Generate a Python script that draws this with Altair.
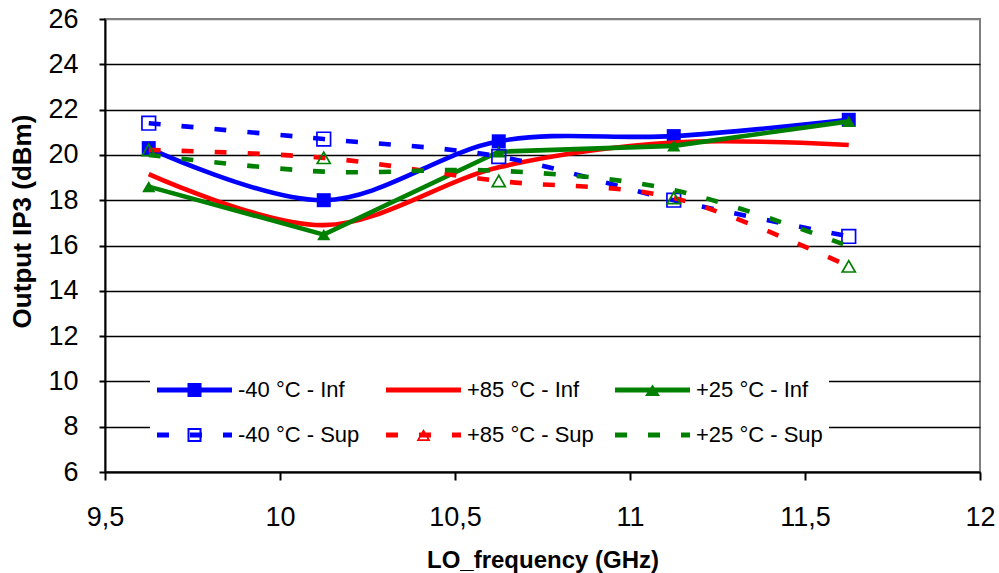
import altair as alt
import pandas as pd

# ---------------- data ----------------
freq_ghz = [9.625, 10.125, 10.625, 11.125, 11.625]
series_names = ["-40 °C - Inf", "-40 °C - Sup", "+85 °C - Inf", "+85 °C - Sup",
                "+25 °C - Inf", "+25 °C - Sup"]
m40_inf = [20.3, 18.0, 20.6, 20.83, 21.55]
m40_sup = [21.4, 20.7, 19.93, 18.0, 16.4]
p85_inf = [19.15, 16.9, 19.45, 20.55, 20.44]
p85_sup = [20.22, 19.87, 18.85, 18.1, 15.08]
p25_inf = [18.6, 16.48, 20.14, 20.4, 21.48]
p25_sup = [20.0, 19.26, 19.3, 18.45, 15.97]
series_values = [m40_inf, m40_sup, p85_inf, p85_sup, p25_inf, p25_sup]
x_ticks = [9.5, 10, 10.5, 11, 11.5, 12]
y_ticks = [6, 8, 10, 12, 14, 16, 18, 20, 22, 24, 26]

rows = []
for name, vals in zip(series_names, series_values):
    for f, v in zip(freq_ghz, vals):
        rows.append({"freq": f, "oip3": v, "series": name})
df = pd.DataFrame(rows)

# ---------------- styles ----------------
FONT = "Liberation Sans"
BLUE, RED, GREEN = "#0000FF", "#FF0000", "#008000"
series_colors = [BLUE, BLUE, RED, RED, GREEN, GREEN]
DASH = [12, 21]

solid_line = "M-1,-0.25H6.5V0.25H-1Z"
dash_line = "M-1,-0.25H0.2V0.25H-1Z M2.3,-0.25H3.5V0.25H2.3Z M5.6,-0.25H6.5V0.25H5.6Z"
sq_filled = "M2.05,-0.7H3.45V0.7H2.05Z"
sq_open = "M2.05,-0.7H3.45V0.7H2.05Z M2.25,-0.5V0.5H3.25V-0.5Z"
tri_filled = "M2.75,-0.55L3.5,0.6H2Z"
tri_open = "M2.75,-0.6L3.45,0.6H2.05Z M2.75,-0.26L2.346,0.43H3.154Z"
legend_paths = [solid_line + " " + sq_filled, dash_line + " " + sq_open,
                solid_line, dash_line + " " + tri_open,
                solid_line + " " + tri_filled, dash_line]

x_axis = alt.Axis(
    values=x_ticks, labelExpr="replace(toString(datum.value), '.', ',')",
    title="LO_frequency (GHz)", grid=False,
    domainColor="black", domainWidth=2, tickColor="black", tickWidth=2, tickSize=8,
    labelFont=FONT, labelFontSize=27, labelColor="black", labelPadding=45,
    labelBaseline="alphabetic", labelFlush=False, labelOverlap=False,
    titleFont=FONT, titleFontSize=24, titleFontWeight="bold", titleColor="black",
    titleX=437.5, titleY=95, titleBaseline="alphabetic", titleAlign="center")

y_axis = alt.Axis(
    values=y_ticks, title="Output IP3 (dBm)", grid=True,
    gridColor={"condition": {"test": "datum.value >= 26", "value": "#808080"}, "value": "black"},
    gridWidth=1.6,
    domainColor="black", domainWidth=2, tickColor="black", tickWidth=2, tickSize=6,
    labelFont=FONT, labelFontSize=27, labelColor="black", labelPadding=21,
    labelFlush=False, labelOverlap=False,
    titleFont=FONT, titleFontSize=26, titleFontWeight="bold", titleColor="black",
    titleX=-83, titleY=202, titleAngle=270, titleBaseline="middle", titleAlign="center")

x_enc = alt.X("freq:Q", scale=alt.Scale(domain=[9.5, 12], nice=False, zero=False), axis=x_axis)
y_enc = alt.Y("oip3:Q", scale=alt.Scale(domain=[6, 26], nice=False, zero=False), axis=y_axis)

base = alt.Chart(df)


def sel(name):
    return base.transform_filter(alt.datum.series == name)


line_style = {
    "-40 °C - Inf": dict(color=BLUE, interpolate="cardinal"),
    "-40 °C - Sup": dict(color=BLUE, interpolate="cardinal", strokeDash=DASH),
    "+85 °C - Inf": dict(color=RED, interpolate="cardinal"),
    "+85 °C - Sup": dict(color=RED, interpolate="cardinal", strokeDash=DASH),
    "+25 °C - Inf": dict(color=GREEN, interpolate="linear"),
    "+25 °C - Sup": dict(color=GREEN, interpolate="cardinal", strokeDash=DASH),
}
marker_style = {
    "-40 °C - Inf": dict(shape="square", filled=True, size=196, color=BLUE),
    "-40 °C - Sup": dict(shape="square", filled=False, size=185, strokeWidth=1.7, color=BLUE),
    "+85 °C - Sup": dict(shape="triangle-up", filled=False, size=170, strokeWidth=1.7, color=GREEN),
    "+25 °C - Inf": dict(shape="triangle-up", filled=True, size=175, color=GREEN),
}

draw_order = ["-40 °C - Inf", "+85 °C - Inf", "+25 °C - Inf",
              "-40 °C - Sup", "+85 °C - Sup", "+25 °C - Sup"]

layers = []
for name in draw_order:
    layers.append(sel(name).mark_line(strokeWidth=4.6, strokeCap="butt", **line_style[name])
                  .encode(x=x_enc, y=y_enc))
    if name in marker_style:
        layers.append(sel(name).mark_point(opacity=1, **marker_style[name])
                      .encode(x=x_enc, y=y_enc))

legend_def = alt.Legend(
    title=None, orient="none", legendX=45, legendY=354, columns=3, gridAlign="all",
    columnPadding=20, rowPadding=23, symbolSize=400, symbolStrokeWidth=0, symbolOpacity=1,
    labelOffset=60, labelFont=FONT, labelFontSize=22, labelColor="black", labelLimit=400,
    fillColor="white", padding=6)

legend_layer = base.transform_filter("datum.oip3 > 1000").mark_point(filled=True).encode(
    x=x_enc, y=y_enc,
    shape=alt.Shape("series:N", scale=alt.Scale(domain=series_names, range=legend_paths),
                    legend=legend_def),
    fill=alt.Fill("series:N", scale=alt.Scale(domain=series_names, range=series_colors),
                  legend=legend_def),
)
layers.append(legend_layer)

chart = alt.layer(*layers).properties(
    width=875, height=453,
    autosize=alt.AutoSizeParams(type="none"),
    padding={"left": 105, "top": 19, "right": 19, "bottom": 101},
    background="white",
).configure_view(stroke="#808080", strokeWidth=2)

chart.save("out.html", embed_options={"renderer": "svg", "actions": False})
